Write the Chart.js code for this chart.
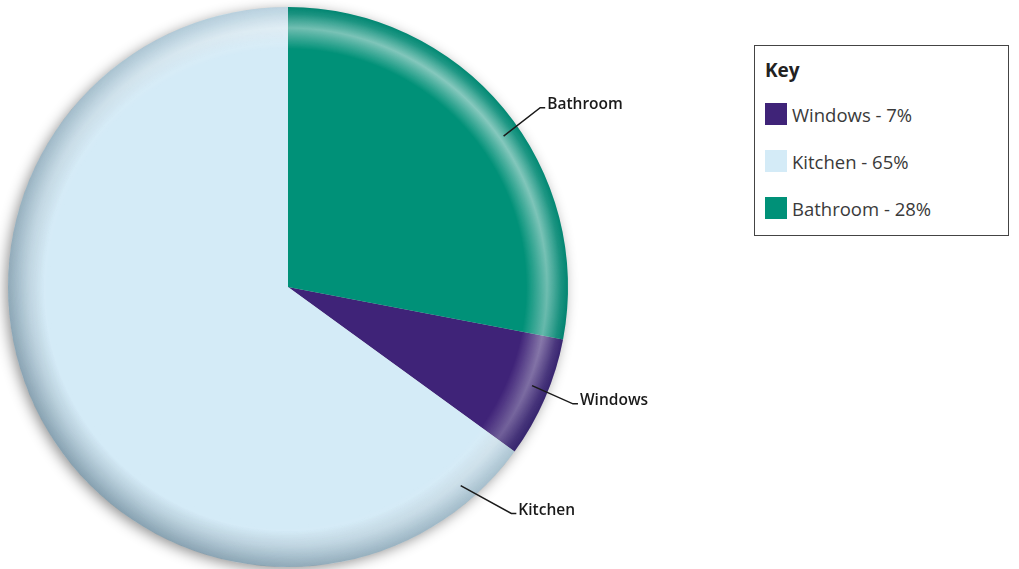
<!DOCTYPE html>
<html>
<head>
<meta charset="utf-8">
<script src="https://cdn.jsdelivr.net/npm/chart.js@4/dist/chart.umd.min.js"></script>
<style>
  html, body { margin: 0; padding: 0; background: #fff; }
  #wrap { position: relative; width: 1019px; height: 569px; }
  #c { position: absolute; left: 0; top: 0; }
  #key {
    position: absolute; left: 754px; top: 45px; width: 255px; height: 191px;
    border: 1px solid #444; box-sizing: border-box; background: #fff;
    font-family: "Open Sans", "Noto Sans", sans-serif; color: #3a3a3a;
  }
  #key .title { position: absolute; left: 10px; top: 11px; font-weight: 700; font-size: 19px; color: #222; }
  #key .row { position: absolute; left: 10px; height: 22px; display: flex; align-items: center; font-size: 18.5px; }
  #key .sw { width: 22px; height: 22px; margin-right: 5px; }
</style>
</head>
<body>
<div id="wrap">
  <canvas id="c" width="1019" height="569"></canvas>
  <div id="key"><div class="title">Key</div></div>
</div>
<script>
// Data
const categories = ['Windows', 'Kitchen', 'Bathroom'];
const values = [7, 65, 28];
const colors = ['#3f2378', '#d4ebf7', '#009178'];
// callout leader lines: start / end angle (degrees clockwise from 12 o'clock) and reach (x radius)
const calloutStartAngles = [112, 139, 55];
const calloutEndAngles = [112.3, 135.4, 54.6];
const calloutReach = [1.1, 1.136, 1.105];

const total = values.reduce((a, b) => a + b, 0);
const startRotation = (values[2] / total) * 360; // Bathroom starts at 12 o'clock

// HTML legend built from the arrays
const key = document.getElementById('key');
categories.forEach((cat, i) => {
  const row = document.createElement('div');
  row.className = 'row';
  row.style.top = (57 + i * 47) + 'px';
  const sw = document.createElement('div');
  sw.className = 'sw';
  sw.style.background = colors[i];
  const t = document.createElement('span');
  t.textContent = cat + ' - ' + Math.round(values[i] / total * 100) + '%';
  row.appendChild(sw); row.appendChild(t);
  key.appendChild(row);
});

const bevelPlugin = {
  id: 'bevel',
  beforeDatasetsDraw(chart) {
    const arc = chart.getDatasetMeta(0).data[0];
    if (!arc) return;
    const { x, y, outerRadius: R } = arc.getProps(['x', 'y', 'outerRadius'], true);
    const ctx = chart.ctx;
    ctx.save();
    ctx.shadowColor = 'rgba(0,0,0,0.45)';
    ctx.shadowBlur = 14;
    ctx.shadowOffsetX = -3;
    ctx.shadowOffsetY = 3;
    ctx.beginPath();
    ctx.arc(x, y, R - 1, 0, Math.PI * 2);
    ctx.fillStyle = '#ccc';
    ctx.fill();
    ctx.restore();
  },
  afterDatasetsDraw(chart) {
    const arc = chart.getDatasetMeta(0).data[0];
    if (!arc) return;
    const { x, y, outerRadius: R } = arc.getProps(['x', 'y', 'outerRadius'], true);
    const ctx = chart.ctx;
    const W = chart.width, H = chart.height;

    const a = document.createElement('canvas'); a.width = W; a.height = H;
    const ac = a.getContext('2d');
    let g = ac.createRadialGradient(x, y, 0, x, y, R);
    g.addColorStop(0, 'rgba(255,255,255,0)');
    g.addColorStop(0.85, 'rgba(255,255,255,0)');
    g.addColorStop(0.925, 'rgba(255,255,255,0.55)');
    g.addColorStop(0.975, 'rgba(255,255,255,0.12)');
    g.addColorStop(1, 'rgba(255,255,255,0)');
    ac.fillStyle = g;
    ac.beginPath(); ac.arc(x, y, R, 0, Math.PI * 2); ac.fill();
    ac.globalCompositeOperation = 'destination-in';
    let lg = ac.createLinearGradient(x + R * 0.7, y - R * 0.7, x - R * 0.7, y + R * 0.7);
    lg.addColorStop(0, 'rgba(0,0,0,1)');
    lg.addColorStop(0.5, 'rgba(0,0,0,0.4)');
    lg.addColorStop(1, 'rgba(0,0,0,0.08)');
    ac.fillStyle = lg; ac.fillRect(0, 0, W, H);

    const b = document.createElement('canvas'); b.width = W; b.height = H;
    const bc = b.getContext('2d');
    g = bc.createRadialGradient(x, y, 0, x, y, R);
    g.addColorStop(0, 'rgba(20,50,70,0)');
    g.addColorStop(0.87, 'rgba(20,50,70,0)');
    g.addColorStop(1, 'rgba(20,50,70,0.4)');
    bc.fillStyle = g;
    bc.beginPath(); bc.arc(x, y, R, 0, Math.PI * 2); bc.fill();
    bc.globalCompositeOperation = 'destination-in';
    lg = bc.createLinearGradient(x - R * 0.7, y + R * 0.7, x + R * 0.7, y - R * 0.7);
    lg.addColorStop(0, 'rgba(0,0,0,1)');
    lg.addColorStop(0.6, 'rgba(0,0,0,0.5)');
    lg.addColorStop(1, 'rgba(0,0,0,0.2)');
    bc.fillStyle = lg; bc.fillRect(0, 0, W, H);

    ctx.save();
    ctx.drawImage(b, 0, 0);
    ctx.drawImage(a, 0, 0);
    ctx.restore();
  }
};

const calloutPlugin = {
  id: 'callouts',
  afterDraw(chart) {
    const meta = chart.getDatasetMeta(0);
    const ctx = chart.ctx;
    meta.data.forEach((arc, i) => {
      const { x, y, outerRadius: R } = arc.getProps(['x', 'y', 'outerRadius'], true);
      const a0 = calloutStartAngles[i] * Math.PI / 180;
      const a1 = calloutEndAngles[i] * Math.PI / 180;
      const sx = x + Math.sin(a0) * R * 0.94, sy = y - Math.cos(a0) * R * 0.94;
      const ex = x + Math.sin(a1) * R * calloutReach[i], ey = y - Math.cos(a1) * R * calloutReach[i];
      ctx.save();
      ctx.strokeStyle = '#1a1a1a';
      ctx.lineWidth = 1.5;
      ctx.beginPath();
      ctx.moveTo(sx, sy); ctx.lineTo(ex, ey); ctx.lineTo(ex + 5, ey);
      ctx.stroke();
      ctx.fillStyle = '#1a1a1a';
      ctx.font = '600 15.5px "Open Sans", "Noto Sans", sans-serif';
      ctx.textBaseline = 'middle';
      ctx.textAlign = 'left';
      ctx.fillText(chart.data.labels[i], ex + 7, ey - 3);
      ctx.restore();
    });
  }
};

new Chart(document.getElementById('c'), {
  type: 'pie',
  data: {
    labels: categories,
    datasets: [{ data: values, backgroundColor: colors, borderWidth: 0, hoverOffset: 0 }]
  },
  options: {
    responsive: false,
    animation: false,
    rotation: startRotation,
    layout: { padding: { left: 8, right: 451, top: 7, bottom: 2 } },
    plugins: { legend: { display: false }, tooltip: { enabled: false } }
  },
  plugins: [bevelPlugin, calloutPlugin]
});
</script>
</body>
</html>
